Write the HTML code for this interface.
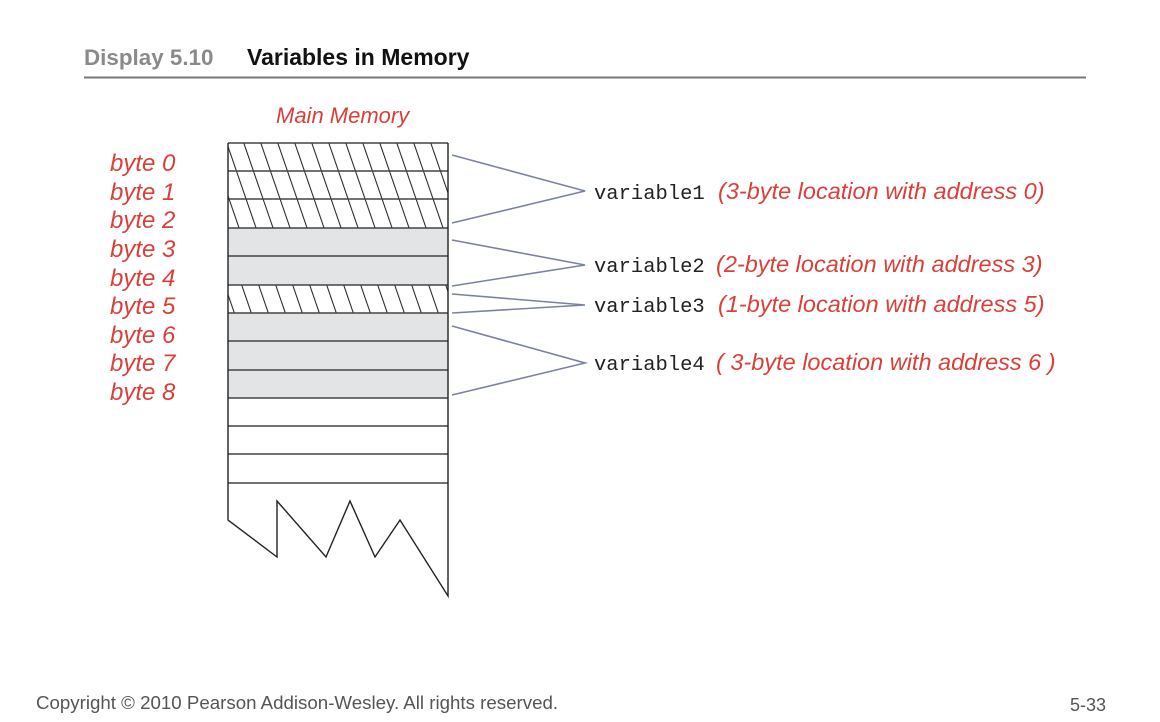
<!DOCTYPE html>
<html><head><meta charset="utf-8"><style>
html,body{margin:0;padding:0;background:#fff;}
svg{display:block;}
.r{font-family:"Liberation Sans",sans-serif;font-style:italic;fill:#d9403a;font-size:23.5px;}
.b{font-size:24px;}
.m{font-family:"Liberation Mono",monospace;font-size:20.5px;fill:#222;}
</style></head><body>
<svg width="1160" height="722" viewBox="0 0 1160 722" xmlns="http://www.w3.org/2000/svg">
<defs>
<pattern id="h" patternUnits="userSpaceOnUse" width="17" height="9.5" x="228" y="143" patternTransform="skewX(19)">
<line x1="0.5" y1="0" x2="0.5" y2="9.5" stroke="#222" stroke-width="1.2"/>
</pattern>
</defs>
<text x="84" y="65" font-family="Liberation Sans,sans-serif" font-weight="bold" font-size="22.4" fill="#8a8a8a">Display 5.10</text>
<text x="247" y="65" font-family="Liberation Sans,sans-serif" font-weight="bold" font-size="23" fill="#111">Variables in Memory</text>
<line x1="84" y1="77.5" x2="1086" y2="77.5" stroke="#777" stroke-width="2"/>
<text x="276" y="123" class="r" style="font-size:22px">Main Memory</text>
<g class="r b">
<text x="110" y="171">byte 0</text>
<text x="110" y="200">byte 1</text>
<text x="110" y="228">byte 2</text>
<text x="110" y="257">byte 3</text>
<text x="110" y="286">byte 4</text>
<text x="110" y="314">byte 5</text>
<text x="110" y="343">byte 6</text>
<text x="110" y="371">byte 7</text>
<text x="110" y="400">byte 8</text>
</g>
<rect x="228" y="143" width="220" height="85" fill="#fff"/>
<rect x="228" y="143" width="220" height="85" fill="url(#h)"/>
<rect x="228" y="228" width="220" height="57" fill="#e3e4e6"/>
<rect x="228" y="285" width="220" height="28" fill="#fff"/>
<rect x="228" y="285" width="220" height="28" fill="url(#h)"/>
<rect x="228" y="313" width="220" height="85" fill="#e3e4e6"/>
<g stroke="#444" stroke-width="1.6" fill="none">
<line x1="228" y1="143" x2="448" y2="143"/>
<line x1="228" y1="171" x2="448" y2="171"/>
<line x1="228" y1="199" x2="448" y2="199"/>
<line x1="228" y1="228" x2="448" y2="228"/>
<line x1="228" y1="256" x2="448" y2="256"/>
<line x1="228" y1="285" x2="448" y2="285"/>
<line x1="228" y1="313" x2="448" y2="313"/>
<line x1="228" y1="341" x2="448" y2="341"/>
<line x1="228" y1="370" x2="448" y2="370"/>
<line x1="228" y1="398" x2="448" y2="398"/>
<line x1="228" y1="426" x2="448" y2="426"/>
<line x1="228" y1="454" x2="448" y2="454"/>
<line x1="228" y1="483" x2="448" y2="483"/>
<polyline points="228,143 228,520 277,557 277,501 326,557 350,501 375,557 400,520 448,596 448,143" stroke="#222" stroke-width="1.4"/>
</g>
<g stroke="#7a82a0" stroke-width="1.6" fill="none">
<polyline points="452,155 585,191 452,223"/>
<polyline points="452,240 585,265 452,286"/>
<polyline points="452,294 585,305 452,313"/>
<polyline points="452,326 585,363 452,395"/>
</g>
<text x="594" y="199" class="m">variable1</text>
<text x="718" y="199" class="r">(3-byte location with address 0)</text>
<text x="594" y="272" class="m">variable2</text>
<text x="716" y="272" class="r">(2-byte location with address 3)</text>
<text x="594" y="312" class="m">variable3</text>
<text x="718" y="312" class="r">(1-byte location with address 5)</text>
<text x="594" y="370" class="m">variable4</text>
<text x="716" y="370" class="r">( 3-byte location with address 6 )</text>
<text x="36" y="709" font-family="Liberation Sans,sans-serif" font-size="18.7" fill="#555">Copyright © 2010 Pearson Addison-Wesley. All rights reserved.</text>
<text x="1070" y="711" font-family="Liberation Sans,sans-serif" font-size="18" fill="#555">5-33</text>
</svg>
</body></html>
